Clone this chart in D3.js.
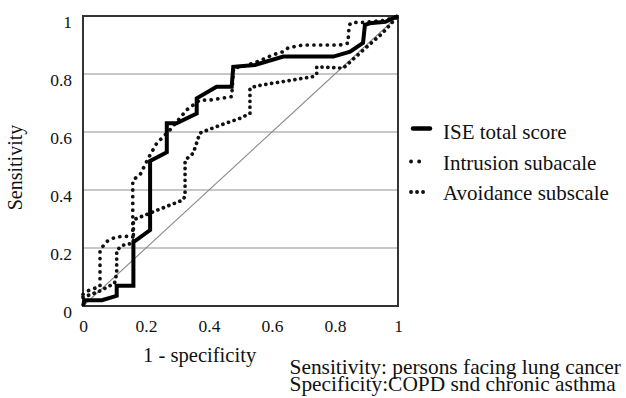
<!DOCTYPE html>
<html><head><meta charset="utf-8">
<script src="https://cdn.jsdelivr.net/npm/d3@7"></script>
<style>body{margin:0;background:#fff}svg{display:block}text{font-family:"Liberation Serif","Times New Roman",serif;fill:#111}</style>
</head><body><svg id="c" width="626" height="398"></svg>
<script>
const xTicks = [0, 0.2, 0.4, 0.6, 0.8, 1];
const xTickLabels = ["0", "0.2", "0.4", "0.6", "0.8", "1"];
const yTicks = [0, 0.2, 0.4, 0.6, 0.8, 1];
const yTickLabels = ["0", "0.2", "0.4", "0.6", "0.8", "1"];
const seriesNames = ["ISE total score", "Intrusion subacale", "Avoidance subscale"];

const iseX = [0, 0.005, 0.06, 0.107, 0.107, 0.16, 0.16, 0.213, 0.213, 0.26, 0.266, 0.266, 0.297, 0.361, 0.361, 0.424, 0.472, 0.477, 0.546, 0.636, 0.795, 0.848, 0.889, 0.895, 0.91, 0.96, 1];
const iseY = [0, 0.02, 0.02, 0.035, 0.07, 0.07, 0.22, 0.262, 0.5, 0.527, 0.53, 0.63, 0.63, 0.664, 0.716, 0.756, 0.756, 0.825, 0.831, 0.86, 0.86, 0.877, 0.907, 0.969, 0.975, 0.98, 1];

const intrX = [0, 0.02, 0.054, 0.054, 0.075, 0.102, 0.133, 0.158, 0.158, 0.181, 0.207, 0.234, 0.276, 0.329, 0.371, 0.403, 0.472, 0.478, 0.52, 0.56, 0.6, 0.636, 0.651, 0.698, 0.816, 0.841, 0.845, 0.853, 0.89, 0.96, 1];
const intrY = [0.04, 0.055, 0.067, 0.193, 0.222, 0.237, 0.241, 0.237, 0.434, 0.452, 0.509, 0.561, 0.607, 0.676, 0.71, 0.71, 0.722, 0.82, 0.83, 0.845, 0.865, 0.877, 0.89, 0.9, 0.9, 0.906, 0.969, 0.978, 0.978, 0.985, 1];

const avoX = [0, 0.05, 0.1, 0.107, 0.107, 0.128, 0.155, 0.16, 0.16, 0.223, 0.318, 0.324, 0.324, 0.35, 0.371, 0.381, 0.44, 0.498, 0.53, 0.53, 0.551, 0.731, 0.742, 0.742, 0.826, 0.89, 0.95, 1];
const avoY = [0.03, 0.05, 0.078, 0.113, 0.193, 0.21, 0.216, 0.22, 0.297, 0.325, 0.366, 0.38, 0.503, 0.527, 0.596, 0.601, 0.625, 0.647, 0.664, 0.751, 0.759, 0.791, 0.8, 0.825, 0.82, 0.883, 0.94, 1];

const svg = d3.select("#c");
const x = d3.scaleLinear().domain([0, 1]).range([83, 398]);
const y = d3.scaleLinear().domain([0, 1]).range([306, 16]);

// grid
svg.append("g").selectAll("line").data(yTicks.filter(v => v > 0 && v < 1)).join("line")
  .attr("x1", x(0)).attr("x2", x(1)).attr("y1", d => y(d)).attr("y2", d => y(d))
  .attr("stroke", "#b4b4b4").attr("stroke-width", 1.3);

// diagonal
svg.append("line").attr("x1", x(0)).attr("y1", y(0)).attr("x2", x(1)).attr("y2", y(1))
  .attr("stroke", "#8a8a8a").attr("stroke-width", 1.1);

// frame
svg.append("rect").attr("x", x(0)).attr("y", y(1)).attr("width", x(1) - x(0)).attr("height", y(0) - y(1))
  .attr("fill", "none").attr("stroke", "#333").attr("stroke-width", 2);

// axes
const xAxis = svg.append("g").attr("transform", `translate(0,${y(0)})`)
  .call(d3.axisBottom(x).tickValues(xTicks).tickSize(0).tickPadding(0).tickFormat((d, i) => xTickLabels[i]));
xAxis.select(".domain").remove();
xAxis.selectAll("text").attr("font-size", 17.5).attr("dy", 0).attr("y", 26)
  .style("font-family", "Liberation Serif").attr("fill", "#111");

const yAxis = svg.append("g").attr("transform", `translate(${x(0)},0)`)
  .call(d3.axisLeft(y).tickValues(yTicks).tickSize(0).tickPadding(11).tickFormat((d, i) => yTickLabels[i]));
yAxis.select(".domain").remove();
yAxis.selectAll("text").attr("font-size", 17.5).attr("dy", 11)
  .style("font-family", "Liberation Serif").attr("fill", "#111");

// curves
const line = d3.line();
function pts(xs, ys) { return xs.map((v, i) => [x(v), y(ys[i])]); }
svg.append("path").attr("d", line(pts(avoX, avoY))).attr("fill", "none").attr("stroke", "#111")
  .attr("stroke-width", 3.7).attr("stroke-linecap", "round").attr("stroke-dasharray", "0.1 5.8");
svg.append("path").attr("d", line(pts(intrX, intrY))).attr("fill", "none").attr("stroke", "#111")
  .attr("stroke-width", 3.7).attr("stroke-linecap", "round").attr("stroke-dasharray", "0.1 6.6");
svg.append("path").attr("d", line(pts(iseX, iseY))).attr("fill", "none").attr("stroke", "#000")
  .attr("stroke-width", 4).attr("stroke-linejoin", "miter");

// labels
function label(tx, ty, str, size, rot) {
  return svg.append("text").attr("transform", `translate(${tx},${ty}) rotate(${rot || 0})`)
    .attr("font-size", size).text(str);
}
label(22, 167.5, "Sensitivity", 20, -90).attr("text-anchor", "middle");
label(143, 361.5, "1 - specificity", 20.6, 0);

// legend
const lg = svg.append("g");
lg.append("line").attr("x1", 413).attr("x2", 430).attr("y1", 128.5).attr("y2", 128.5)
  .attr("stroke", "#000").attr("stroke-width", 4.5).attr("stroke-linecap", "round");
lg.append("line").attr("x1", 411).attr("x2", 427).attr("y1", 161.5).attr("y2", 161.5)
  .attr("stroke", "#111").attr("stroke-width", 3.8).attr("stroke-linecap", "round").attr("stroke-dasharray", "0.1 8");
lg.append("line").attr("x1", 411).attr("x2", 429).attr("y1", 192).attr("y2", 192)
  .attr("stroke", "#111").attr("stroke-width", 3.8).attr("stroke-linecap", "round").attr("stroke-dasharray", "0.1 5.9");
label(443, 139.3, seriesNames[0], 21, 0);
label(443, 170, seriesNames[1], 21, 0);
label(443, 200, seriesNames[2], 21, 0);

label(289.5, 373.5, "Sensitivity: persons facing lung cancer", 21.4, 0);
label(289.5, 391, "Specificity:COPD snd chronic asthma", 21.4, 0);
</script></body></html>
